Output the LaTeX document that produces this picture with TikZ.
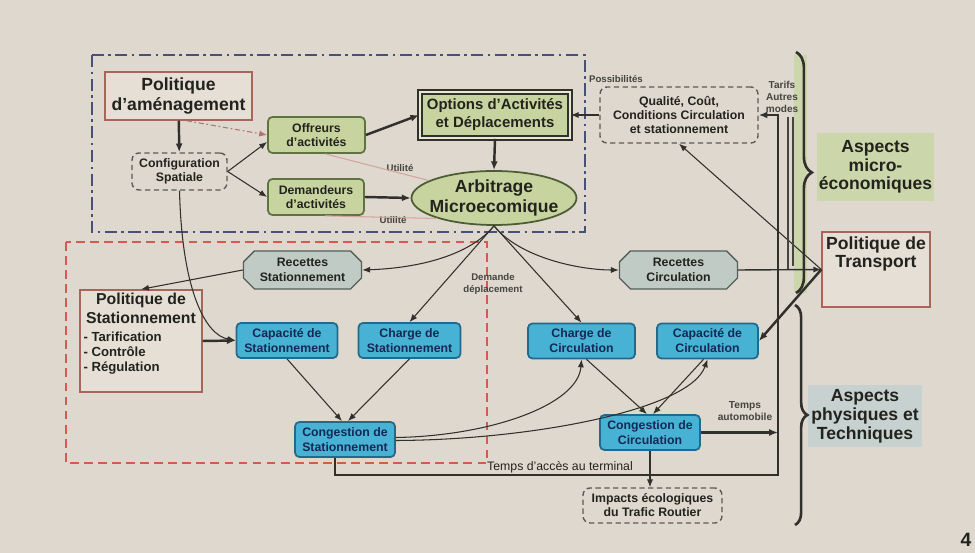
\documentclass[tikz,border=0pt]{standalone}
\usepackage{fontspec}
\setmainfont{Liberation Sans}
\usetikzlibrary{arrows.meta,shapes.geometric,shapes.misc,decorations.pathreplacing,calc}
\definecolor{bgc}{RGB}{223,216,206}
\definecolor{polfill}{RGB}{229,223,214}
\definecolor{polred}{RGB}{170,100,90}
\definecolor{lgreen}{RGB}{200,212,160}
\definecolor{dgreen}{RGB}{95,115,65}
\definecolor{blufill}{RGB}{72,178,212}
\definecolor{bludark}{RGB}{35,105,140}
\definecolor{blutext}{RGB}{20,40,85}
\definecolor{recf}{RGB}{192,203,198}
\definecolor{recd}{RGB}{85,95,90}
\definecolor{linec}{RGB}{50,48,44}
\definecolor{dashblue}{RGB}{70,80,120}
\definecolor{redd}{RGB}{215,90,80}
\definecolor{faintc}{RGB}{212,165,158}
\definecolor{microf}{RGB}{203,214,170}
\definecolor{physf}{RGB}{198,209,208}
\definecolor{txt}{RGB}{35,35,30}
\newcommand\myfs[2]{\fontsize{#1}{#2}\selectfont}
\begin{document}
\begin{tikzpicture}[x=0.02cm,y=-0.02cm,
  every node/.style={text=txt, inner sep=1pt, align=center},
  polbox/.style={draw=polred, fill=polfill, line width=0.8pt},
  grnbox/.style={draw=dgreen, fill=lgreen, rounded corners=2.5pt, line width=1pt, font=\bfseries\myfs{7}{8}},
  blubox/.style={draw=bludark, fill=blufill, rounded corners=2.5pt, line width=1pt, font=\bfseries\myfs{7}{8.5}, text=blutext, minimum height=0.7cm},
  dshbox/.style={draw=linec!80, dash pattern=on 3pt off 2pt, rounded corners=4pt, line width=0.8pt, font=\bfseries\myfs{7}{8}},
  recbox/.style={chamfered rectangle, chamfered rectangle xsep=0.11cm, chamfered rectangle ysep=0.11cm, draw=recd, fill=recf, line width=0.8pt, font=\bfseries\myfs{7}{8.5}, minimum width=2.36cm, minimum height=0.72cm},
  lbl/.style={font=\bfseries\myfs{5.5}{6.5}, text=txt!85},
  con/.style={draw=linec, line width=0.6pt, -{Latex[length=4.5pt,width=3.5pt]}},
  thk/.style={draw=linec, line width=1.4pt, -{Latex[length=5pt,width=4pt]}},
  faint/.style={draw=faintc, line width=0.6pt},
  bracestyle/.style={decorate, draw=linec, line width=1.5pt}
]
\fill[bgc] (0,0) rectangle (975,553);
\useasboundingbox (0,0) rectangle (975,553);

% green band behind the upper brace
\fill[microf] (794,55) rectangle (807,293);

% frames
\draw[dashblue, line width=1pt, dash pattern=on 7pt off 2.5pt on 1.5pt off 2.5pt] (92,55) rectangle (585,232);
\draw[redd, line width=1pt, dash pattern=on 5pt off 3pt] (66,242) rectangle (487,463);

% upper nodes
\node[polbox, minimum width=2.94cm, minimum height=0.96cm, font=\bfseries\myfs{10}{11.5}] (amen) at (178.5,96) {Politique\\d'aménagement};
\node[dshbox, minimum width=1.9cm, minimum height=0.74cm] (config) at (179.5,171.5) {Configuration\\Spatiale};
\node[grnbox, minimum width=1.94cm, minimum height=0.72cm] (offre) at (316.5,135) {Offreurs\\d'activités};
\node[grnbox, minimum width=1.92cm, minimum height=0.72cm] (deman) at (316,197) {Demandeurs\\d'activités};
\node[draw=linec, double=lgreen!50!white, double distance=1.2pt, line width=0.9pt, fill=lgreen, minimum width=3.0cm, minimum height=0.92cm, font=\bfseries\myfs{8.5}{10.3}] (options) at (495,115) {Options d'Activités\\et Déplacements};
\node[ellipse, draw=dgreen!80!black, fill=lgreen, line width=1pt, minimum width=3.3cm, minimum height=1.08cm, inner sep=0pt] (arbit) at (494,198) {};
\node[font=\bfseries\myfs{10}{11.5}] (arbitT) at (arbit.center) {Arbitrage\\Microecomique};
\node[dshbox, minimum width=3.16cm, minimum height=1.12cm] (qualite) at (679,115) {Qualité, Coût,\\Conditions Circulation\\et stationnement};

% right side
\node[fill=microf, minimum width=2.3cm, minimum height=1.36cm, font=\bfseries\myfs{10}{10.5}] (micro) at (875.5,167) {Aspects\\micro-\\économiques};
\node[polbox, minimum width=2.16cm, minimum height=1.5cm, font=\bfseries\myfs{10}{10.3}] (poltrans) at (876,269.5) {\parbox[c][1.3cm][t]{2cm}{\centering Politique de\\Transport}};
\node[fill=physf, minimum width=2.28cm, minimum height=1.24cm, font=\bfseries\myfs{10}{10.8}] (phys) at (865,416) {Aspects\\physiques et\\Techniques};

% lower nodes
\node[recbox] (recstat) at (302.5,270) {Recettes\\Stationnement};
\node[recbox] (reccirc) at (678.5,270) {Recettes\\Circulation};
\node[polbox, minimum width=2.44cm, minimum height=2.04cm] (polstat) at (141,341) {\parbox[c][1.9cm][t]{2.3cm}{{\centering\bfseries\myfs{9}{10.5}Politique de\\Stationnement\par}\vspace{2pt}{\raggedright\bfseries\myfs{7.5}{8.5}- Tarification\\- Contrôle\\- Régulation\par}}};
\node[blubox, minimum width=2.02cm] (capstat) at (287,340.5) {Capacité de\\Stationnement};
\node[blubox, minimum width=2.04cm] (chstat) at (409.5,340.5) {Charge de\\Stationnement};
\node[blubox, minimum width=2.14cm] (chcirc) at (581.5,341) {Charge de\\Circulation};
\node[blubox, minimum width=2.02cm] (capcirc) at (707.5,341) {Capacité de\\Circulation};
\node[blubox, minimum width=2.0cm] (congstat) at (345,439.5) {Congestion de\\Stationnement};
\node[blubox, minimum width=2.0cm] (congcirc) at (650,432.5) {Congestion de\\Circulation};
\node[dshbox, minimum width=2.78cm, minimum height=0.7cm] (impacts) at (652.5,505.5) {Impacts écologiques\\du Trafic Routier};

% labels
\node[lbl] (ut1) at (400,168) {Utilité};
\node[lbl] (ut2) at (393,220) {Utilité};
\node[lbl, anchor=west] (poss) at (587,79) {Possibilités};
\node[lbl, font=\bfseries\myfs{5.7}{7}] (tarifs) at (782,97) {Tarifs\\Autres\\modes};
\node[lbl] (dem) at (493,284) {Demande\\déplacement};
\node[lbl, font=\bfseries\myfs{5.8}{7.2}] (tauto) at (745,411) {Temps\\automobile};
\node[font=\myfs{7}{8}] (tacc) at (560,467) {Temps d'accès au terminal};
\node[font=\bfseries\myfs{11}{12}] (num) at (966,540) {4};

% coordinates
\coordinate (ta1) at (335,475);
\coordinate (ta2) at (778,475);
\coordinate (ta3) at (778,115);
\coordinate (tv1a) at (788,117);
\coordinate (tv1b) at (788,269.5);
\coordinate (tv2a) at (793,117);
\coordinate (tv2b) at (793,266);
\coordinate (tautoE) at (778,432.5);

% upper connectors
\draw[thk] (amen) -- (config);
\draw[con, draw=polred!90, dash pattern=on 3pt off 1.5pt on 1pt off 1.5pt] ($(amen.south)+(8,0)$) -- (offre.west);
\draw[con] (config.east) -- (offre.188);
\draw[con] (config.east) -- (deman.west);
\draw[thk] (offre.east) -- (options.west);
\draw[thk] (deman.east) -- (arbit.west);
\draw[thk] (options.south) -- (arbit.north);
\draw[con] (qualite.west) -- (options.east);
\draw[faint] (offre.-65) -- (arbit.165);
\draw[faint] (deman.-65) -- (arbit.200);

% lower connectors
\draw[con] (arbit.south) .. controls (470,255) and (420,268) .. (recstat.east);
\draw[con] (arbit.south) .. controls (520,258) and (580,270) .. (reccirc.west);
\draw[con] (arbit.south) -- (chstat.north);
\draw[con] (arbit.south) -- (chcirc.north);
\draw[con] (recstat.west) -- (polstat.north);
\draw[con, line width=0.8pt] (reccirc.east) -- (poltrans.west);
\draw[thk] (polstat.east) -- (capstat.west);
\draw[con] (config.south) .. controls (182,290) and (205,335) .. (capstat.west);
\draw[con] (capstat.south) -- ($(congstat.north)+(-3,0)$);
\draw[con] (chstat.south) -- ($(congstat.north)+(3,0)$);
\draw[con] ($(congstat.east)+(0,-2)$) .. controls (490,436) and (578,405) .. (chcirc.south);
\draw[con] ($(congstat.east)+(0,1)$) .. controls (530,440) and (690,410) .. (capcirc.south);
\draw[con] ($(chcirc.south)+(5,0)$) -- ($(congcirc.north)+(-3,0)$);
\draw[con] ($(capcirc.south)+(-4,0)$) -- ($(congcirc.north)+(3,0)$);
\draw[thk] (poltrans.west) -- (capcirc.east);
\draw[con] (poltrans.west) -- (qualite.south);
\draw[thk] (congcirc.east) -- (tautoE);
\draw[con] (congcirc.south) -- (congcirc.south |- impacts.north);
\draw[thk, line width=1.2pt] ($(congstat.south)+(-10,0)$) -- (ta1) -- (ta2) -- (ta3) -- (qualite.east);
\draw[linec!90, line width=0.7pt] (tv1a) -- (tv1b);
\draw[linec!90, line width=0.7pt] (tv2a) -- (tv2b);

% braces
\draw[bracestyle, decoration={brace, amplitude=9pt}] (796,52) -- (796,293);
\draw[bracestyle, decoration={brace, amplitude=7pt}] (795,305) -- (795,525);
\end{tikzpicture}
\end{document}
